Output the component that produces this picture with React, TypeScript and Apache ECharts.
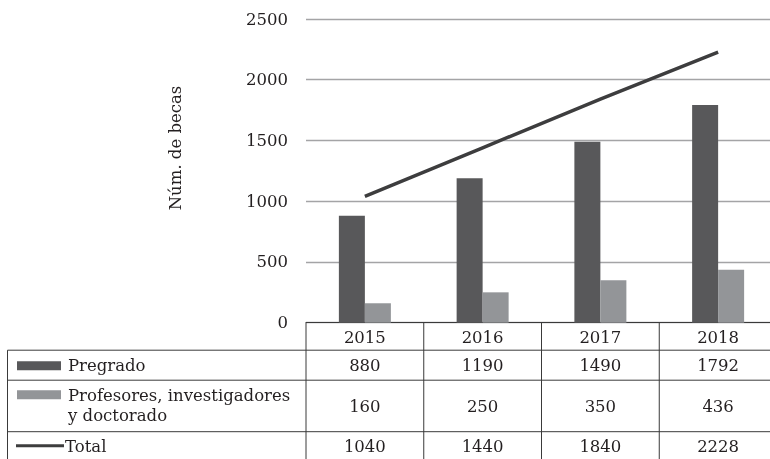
import React, { useEffect, useRef } from "react";
import * as echarts from "echarts";

const years = ["2015", "2016", "2017", "2018"];
const pregrado = [880, 1190, 1490, 1792];
const profesores = [160, 250, 350, 436];
const total = [1040, 1440, 1840, 2228];
const yTicks = { min: 0, max: 2500, interval: 500 };
const seriesNames = ["Pregrado", "Profesores, investigadores\ny doctorado", "Total"];
const yAxisTitle = "Núm. de becas";

const FONT = "DejaVu Serif";
const FS = 16.5;
const TXT = "#231f20";
const DARK = "#58585a";
const LIGHT = "#939598";
const LINE = "#3d3d3e";
const RULE = "#3a3a3a";

export default function App() {
  const ref = useRef<HTMLDivElement>(null);
  useEffect(() => {
    if (!ref.current) return;
    const chart = echarts.init(ref.current, undefined, { renderer: "svg" });
    const option: any = {
      animation: false,
      grid: { left: 306, top: 19, right: 0, bottom: 136.3, containLabel: false },
      xAxis: {
        type: "category",
        data: years,
        axisLine: { show: true, lineStyle: { color: RULE, width: 1 } },
        axisTick: { show: false },
        axisLabel: {
          fontFamily: FONT, fontSize: FS, color: TXT, margin: 15,
          verticalAlign: "middle",
        },
      },
      yAxis: {
        type: "value",
        min: yTicks.min, max: yTicks.max, interval: yTicks.interval,
        axisLine: { show: false },
        axisTick: { show: false },
        axisLabel: { fontFamily: FONT, fontSize: FS, color: TXT, margin: 18, formatter: (v: number) => String(v) },
        splitLine: { lineStyle: { color: "#a4a4a6", width: 1.3 } },
      },
      series: [
        { name: "Pregrado", type: "bar", data: pregrado, barWidth: 26, barGap: "0%", itemStyle: { color: DARK } },
        { name: "Profesores", type: "bar", data: profesores, barWidth: 26, barGap: "0%", itemStyle: { color: LIGHT } },
        { name: "Total", type: "line", data: total, symbol: "none", lineStyle: { color: LINE, width: 3.5 }, z: 5 },
      ],
    };
    chart.setOption(option);

    const centers = years.map((y) => chart.convertToPixel({ xAxisIndex: 0 }, y) as number);
    const band = centers[1] - centers[0];
    const y0 = chart.convertToPixel({ yAxisIndex: 0 }, 0) as number;
    const left = 7.5;
    const rowLines = [y0 + 27.5, y0 + 57.5, y0 + 109];
    const bottom = 470;
    const rowCenters = [y0 + 43, y0 + 84, y0 + 124];
    const rows = [pregrado, profesores, total];
    const bounds = [centers[0] - band / 2, ...centers.map((c) => c + band / 2)];
    const right = bounds[bounds.length - 1];

    const g: any[] = [];
    const lineStyle = { stroke: RULE, lineWidth: 1 };
    rowLines.forEach((y) => {
      g.push({ type: "line", shape: { x1: left, y1: y, x2: right, y2: y }, style: lineStyle, silent: true });
    });
    g.push({ type: "line", shape: { x1: left, y1: rowLines[0], x2: left, y2: bottom }, style: lineStyle, silent: true });
    bounds.forEach((x) => {
      g.push({ type: "line", shape: { x1: x, y1: y0, x2: x, y2: bottom }, style: lineStyle, silent: true });
    });
    rows.forEach((vals, ri) => {
      vals.forEach((v, ci) => {
        g.push({
          type: "text", x: centers[ci], y: rowCenters[ri], silent: true,
          style: { text: String(v), fontFamily: FONT, fontSize: FS, fill: TXT, align: "center", verticalAlign: "middle" },
        });
      });
    });
    // legend keys
    g.push({ type: "rect", shape: { x: 17, y: y0 + 38.5, width: 44, height: 9 }, style: { fill: DARK }, silent: true });
    g.push({ type: "rect", shape: { x: 17, y: y0 + 67.5, width: 44, height: 9 }, style: { fill: LIGHT }, silent: true });
    g.push({ type: "line", shape: { x1: 16, y1: rowCenters[2] - 1, x2: 64, y2: rowCenters[2] - 1 }, style: { stroke: LINE, lineWidth: 3 }, silent: true });
    g.push({
      type: "text", x: 68, y: rowCenters[0], silent: true,
      style: { text: seriesNames[0], fontFamily: FONT, fontSize: FS, fill: TXT, align: "left", verticalAlign: "middle" },
    });
    g.push({
      type: "text", x: 68, y: y0 + 83, silent: true,
      style: { text: seriesNames[1], fontFamily: FONT, fontSize: FS, fill: TXT, align: "left", verticalAlign: "middle", lineHeight: 20 },
    });
    g.push({
      type: "text", x: 65, y: rowCenters[2], silent: true,
      style: { text: seriesNames[2], fontFamily: FONT, fontSize: FS, fill: TXT, align: "left", verticalAlign: "middle" },
    });
    // y axis title
    g.push({
      type: "text", x: 175, y: 148, rotation: Math.PI / 2, silent: true,
      style: { text: yAxisTitle, fontFamily: FONT, fontSize: FS, fill: TXT, align: "center", verticalAlign: "middle" },
    });
    chart.setOption({ graphic: { elements: g } });

    return () => chart.dispose();
  }, []);
  return (
    <div style={{ position: "fixed", left: 0, top: 0, width: 770, height: 459, overflow: "hidden" }}>
      <div ref={ref} style={{ position: "absolute", left: 0, top: 0, width: 777, height: 459 }} />
    </div>
  );
}
